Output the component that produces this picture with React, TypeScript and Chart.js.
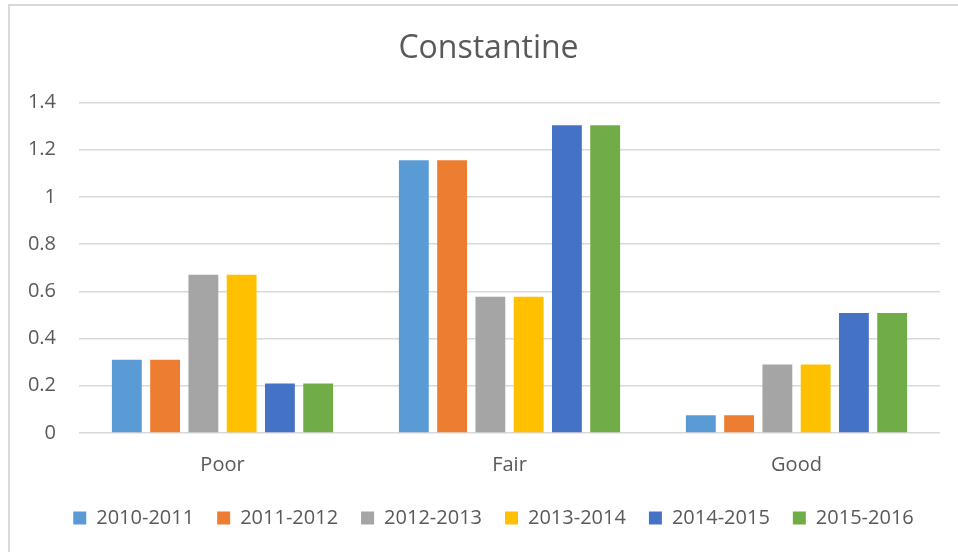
import React, { useEffect, useRef } from "react";
import { Chart, registerables } from "chart.js";

Chart.register(...registerables);

const categories = ["Poor", "Fair", "Good"];
const seriesNames = ["2010-2011", "2011-2012", "2012-2013", "2013-2014", "2014-2015", "2015-2016"];
const s2010 = [0.31, 1.155, 0.075];
const s2011 = [0.31, 1.155, 0.075];
const s2012 = [0.67, 0.577, 0.29];
const s2013 = [0.67, 0.577, 0.29];
const s2014 = [0.21, 1.303, 0.508];
const s2015 = [0.21, 1.303, 0.508];
const seriesValues = [s2010, s2011, s2012, s2013, s2014, s2015];
const seriesColors = ["#5B9BD5", "#ED7D31", "#A5A5A5", "#FFC000", "#4472C4", "#70AD47"];
const yTickLabels = ["0", "0.2", "0.4", "0.6", "0.8", "1", "1.2", "1.4"];
const title = "Constantine";

const FONT = "'Open Sans', 'DejaVu Sans', sans-serif";
const TEXT = "#595959";

const centerShift = {
  id: "centerShift",
  afterLayout(chart: any) {
    if (chart.titleBlock) chart.titleBlock.left = 37;
    if (chart.legend) chart.legend.left = 47;
  },
};

export default function App() {
  const ref = useRef<HTMLCanvasElement | null>(null);
  useEffect(() => {
    if (!ref.current) return;
    const chart = new Chart(ref.current, {
      type: "bar",
      data: {
        labels: categories,
        datasets: seriesNames.map((name, i) => ({
          label: name,
          data: seriesValues[i],
          backgroundColor: seriesColors[i],
          borderWidth: 0,
          categoryPercentage: 0.8,
          barPercentage: 0.78,
        })),
      },
      plugins: [centerShift],
      options: {
        responsive: false,
        animation: false,
        layout: { padding: { left: 0, right: 18, top: 0, bottom: 14 } },
        plugins: {
          title: {
            display: true,
            text: title,
            color: TEXT,
            font: { family: FONT, size: 32, weight: "normal" },
            padding: { top: 30, bottom: 34 },
          },
          legend: {
            position: "bottom",
            labels: {
              boxWidth: 13,
              boxHeight: 13,
              color: TEXT,
              font: { family: FONT, size: 20 },
              padding: 23,
            },
          },
          tooltip: { enabled: false },
        },
        scales: {
          x: {
            grid: { display: false, drawTicks: false },
            border: { display: false },
            ticks: { color: TEXT, font: { family: FONT, size: 20 }, padding: 20 },
            afterFit: (s: any) => {
              s.height = 52;
            },
          },
          y: {
            min: 0,
            max: 1.4,
            ticks: {
              stepSize: 0.2,
              color: TEXT,
              font: { family: FONT, size: 20 },
              padding: 23,
              callback: (_v: any, idx: number) => yTickLabels[idx],
            },
            grid: { color: "#D9D9D9", lineWidth: 1.5, drawTicks: false },
            border: { display: false },
            afterFit: (s: any) => {
              s.width = 79;
            },
          },
        },
      },
    });
    return () => chart.destroy();
  }, []);
  return (
    <div style={{ position: "fixed", left: 0, top: 0, width: 958, height: 552, overflow: "hidden", background: "#fff" }}>
      <div
        style={{
          position: "absolute",
          left: 8,
          top: 4,
          width: 2000,
          height: 2000,
          border: "2px solid #D9D9D9",
        }}
      />
      <canvas ref={ref} width={958} height={552} style={{ position: "absolute", left: 0, top: 0, width: 958, height: 552 }} />
    </div>
  );
}
